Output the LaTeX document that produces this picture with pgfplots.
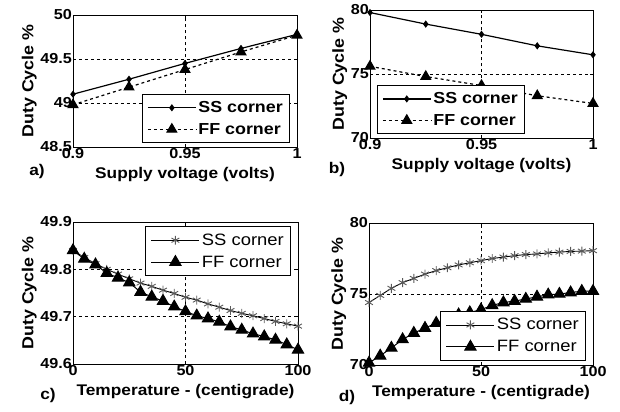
\documentclass[border=0pt]{standalone}
\usepackage{fontspec}
\setmainfont{Liberation Sans}[FakeStretch=1.12]
\usepackage{pgfplots}
\pgfplotsset{compat=1.18}

\newcommand{\tf}{\fontsize{14.5}{15}\selectfont\bfseries}
\newcommand{\lf}{\fontsize{15.5}{17}\selectfont\bfseries}
\newcommand{\yf}{\fontsize{16}{17}\selectfont\bfseries}
\newcommand{\gf}{\fontsize{16}{17}\selectfont\bfseries}
\newcommand{\gfn}{\fontsize{16.5}{17}\selectfont}

\pgfplotsset{
  panel/.style={
    scale only axis,
    clip=false,
    axis line style={line width=1pt},
    grid=major,
    major grid style={dashed, black, line width=0.6pt},
    tick style={black, line width=0.6pt},
    major tick length=3bp,
    tick label style={font=\tf},
    xticklabel style={inner sep=1bp},
    yticklabel style={inner sep=1bp},
    xlabel style={font=\lf, yshift=-4bp},
    ylabel style={font=\yf, yshift=-1bp},
    ylabel={Duty Cycle \%},
    legend cell align=left,
    legend style={draw=black, line width=1pt, fill=white, font=\gf,
      row sep=5bp, inner xsep=5bp, inner ysep=5bp},
    legend image code/.code={
      \draw[mark repeat=2,mark phase=2,#1]
        plot coordinates {(0bp,0bp) (24bp,0bp) (48bp,0bp)};},
  },
  ss/.style={black, line width=1.2pt, mark=diamond*, mark size=2.7pt},
  ff/.style={black, line width=1.2pt, dashed, mark=triangle*, mark size=5.5pt,
    mark options={solid}},
  sst/.style={black, line width=0.9pt, mark=asterisk, mark size=4.5pt,
    mark options={gray!70!black, line width=0.9pt}},
  fft/.style={black, line width=1pt, mark=triangle*, mark size=6.5pt},
}

\begin{document}
\begin{tikzpicture}
\path (0,0) rectangle (620bp,-412bp);

% a) supply voltage
\begin{axis}[panel,
  at={(73bp,-15bp)}, anchor=north west, width=224bp, height=132bp,
  xmin=0.9, xmax=1, ymin=48.5, ymax=50,
  xtick={0.9,0.95,1}, xticklabels={0.9,0.95,1},
  ytick={48.5,49,49.5,50}, yticklabels={48.5,49,49.5,50},
  xlabel={Supply voltage (volts)},
  legend pos=south east]
\addplot[ss] coordinates {(0.9,49.10) (0.925,49.27) (0.95,49.45) (0.975,49.62) (1,49.78)};
\addplot[ff] coordinates {(0.9,48.98) (0.925,49.18) (0.95,49.38) (0.975,49.58) (1,49.77)};
\legend{SS corner, FF corner}
\end{axis}

% b) supply voltage
\begin{axis}[panel,
  at={(370bp,-10bp)}, anchor=north west, width=223bp, height=128bp,
  xmin=0.9, xmax=1, ymin=70, ymax=80,
  xtick={0.9,0.95,1}, xticklabels={0.9,0.95,1},
  ytick={70,75,80}, yticklabels={70,75,80},
  xlabel={Supply voltage (volts)},
  legend pos=south west]
\addplot[ss] coordinates {(0.9,79.8) (0.925,78.9) (0.95,78.1) (0.975,77.2) (1,76.5)};
\addplot[ff] coordinates {(0.9,75.6) (0.925,74.8) (0.95,74.1) (0.975,73.3) (1,72.7)};
\legend{SS corner, FF corner}
\end{axis}

% c) temperature
\begin{axis}[panel,
  at={(73bp,-222bp)}, anchor=north west, width=225bp, height=142bp,
  xmin=0, xmax=100, ymin=49.6, ymax=49.9,
  xtick={0,50,100}, xticklabels={0,50,100},
  ytick={49.6,49.7,49.8,49.9}, yticklabels={49.6,49.7,49.8,49.9},
  xlabel={Temperature - (centigrade)},
  legend style={font=\gfn},
  legend pos=north east]
\addplot[sst] coordinates {
  (0,49.840) (5,49.825) (10,49.812) (15,49.800) (20,49.790) (25,49.780)
  (30,49.771) (35,49.764) (40,49.756) (45,49.749) (50,49.741) (55,49.735)
  (60,49.727) (65,49.720) (70,49.713) (75,49.707) (80,49.702) (85,49.696)
  (90,49.690) (95,49.685) (100,49.680)};
\addplot[fft] coordinates {
  (0,49.840) (5,49.822) (10,49.810) (15,49.792) (20,49.782) (25,49.772)
  (30,49.752) (35,49.742) (40,49.733) (45,49.721) (50,49.711) (55,49.702)
  (60,49.696) (65,49.689) (70,49.679) (75,49.672) (80,49.664) (85,49.658)
  (90,49.651) (95,49.641) (100,49.630)};
\legend{SS corner, FF corner}
\end{axis}

% d) temperature
\begin{axis}[panel,
  at={(369bp,-223bp)}, anchor=north west, width=224bp, height=142bp,
  xmin=0, xmax=100, ymin=70, ymax=80,
  xtick={0,50,100}, xticklabels={0,50,100},
  ytick={70,75,80}, yticklabels={70,75,80},
  xlabel={Temperature - (centigrade)},
  legend style={font=\gfn},
  legend pos=south east]
\addplot[sst] coordinates {
  (0,74.40) (5,74.90) (10,75.40) (15,75.80) (20,76.10) (25,76.40)
  (30,76.65) (35,76.85) (40,77.05) (45,77.20) (50,77.35) (55,77.50)
  (60,77.60) (65,77.70) (70,77.78) (75,77.82) (80,77.90) (85,77.95)
  (90,78.00) (95,78.02) (100,78.05)};
\addplot[fft] coordinates {
  (0,70.15) (5,70.65) (10,71.20) (15,71.80) (20,72.25) (25,72.60)
  (30,72.95) (35,73.20) (40,73.55) (45,73.70) (50,73.90) (55,74.20)
  (60,74.40) (65,74.50) (70,74.65) (75,74.80) (80,74.95) (85,75.00)
  (90,75.10) (95,75.20) (100,75.20)};
\legend{SS corner, FF corner}
\end{axis}

\node[font=\lf] at (37bp,-172bp) {a)};
\node[font=\lf] at (337bp,-170bp) {b)};
\node[font=\lf] at (48bp,-396bp) {c)};
\node[font=\lf] at (347bp,-398bp) {d)};
\end{tikzpicture}
\end{document}
